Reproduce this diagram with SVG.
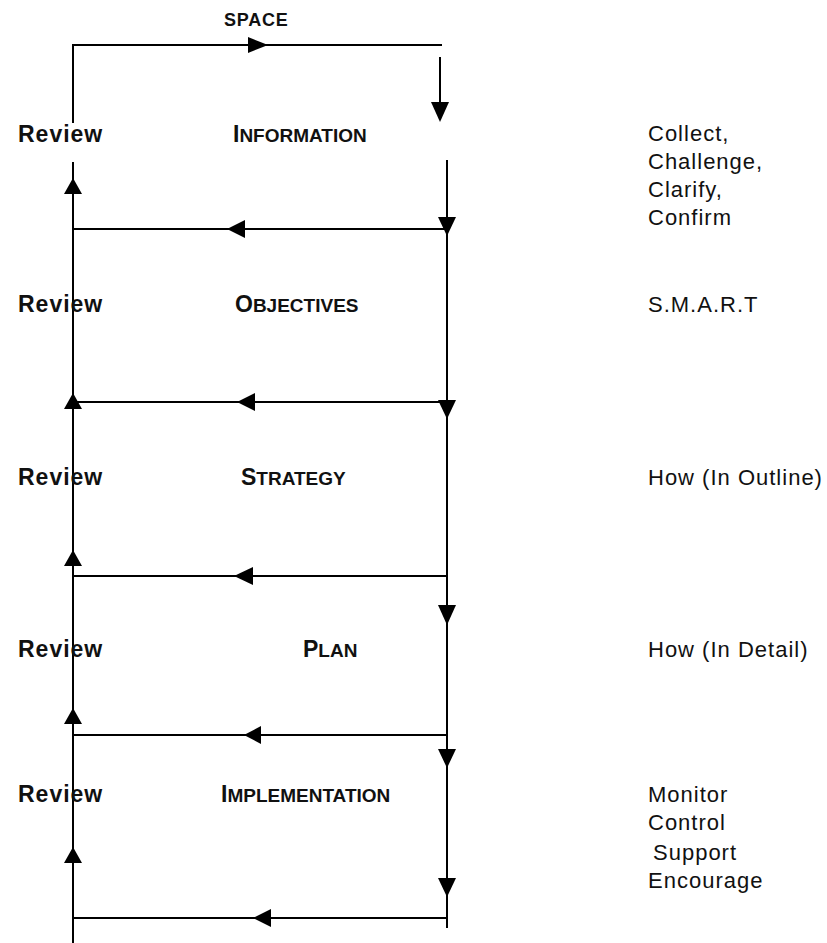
<svg xmlns="http://www.w3.org/2000/svg" width="827" height="943" viewBox="0 0 827 943">
  <style>
    .ln { stroke: #000; stroke-width: 2; fill: none; }
    .ah { fill: #000; stroke: none; }
    .rev { font-family: "Liberation Sans", Arial, sans-serif; font-weight: bold; font-size: 23px; letter-spacing: 1px; fill: #111; }
    .stg { font-family: "Liberation Sans", Arial, sans-serif; font-weight: bold; font-size: 19px; fill: #111; }
    .big { font-size: 23px; }
    .desc { font-family: "Liberation Sans", Arial, sans-serif; font-size: 22px; letter-spacing: 1px; fill: #111; }
    .ttl { font-family: "Liberation Sans", Arial, sans-serif; font-weight: bold; font-size: 18px; letter-spacing: 0.8px; fill: #111; }
  </style>
  <rect width="827" height="943" fill="#fff"/>

  <g id="connectors">
    <path class="ln" d="M73,123 V45 H442"/>
    <path class="ln" d="M440,57 V108"/>
    <path class="ln" d="M73,943 V162"/>
    <path class="ln" d="M447,160 V928"/>
    <path class="ln" d="M73,229 H447"/>
    <path class="ln" d="M73,402 H447"/>
    <path class="ln" d="M73,576 H447"/>
    <path class="ln" d="M73,735 H447"/>
    <path class="ln" d="M73,918 H447"/>
    <polygon class="ah" points="248,37 268,45 248,53"/>
    <polygon class="ah" points="431,102 449,102 440,122"/>
    <polygon class="ah" points="64,194 82,194 73,178"/>
    <polygon class="ah" points="64,409 82,409 73,393"/>
    <polygon class="ah" points="64,566 82,566 73,550"/>
    <polygon class="ah" points="64,724 82,724 73,708"/>
    <polygon class="ah" points="64,863 82,863 73,847"/>
    <polygon class="ah" points="438,217 456,217 447,236"/>
    <polygon class="ah" points="438,400 456,400 447,419"/>
    <polygon class="ah" points="438,605 456,605 447,625"/>
    <polygon class="ah" points="438,749 456,749 447,768"/>
    <polygon class="ah" points="438,878 456,878 447,897"/>
    <polygon class="ah" points="227,229 245,220 245,238"/>
    <polygon class="ah" points="237,402 255,393 255,411"/>
    <polygon class="ah" points="234,576 253,567 253,585"/>
    <polygon class="ah" points="244,735 261,726 261,744"/>
    <polygon class="ah" points="253,918 271,909 271,927"/>
  </g>

  <g id="space">
    <text class="ttl" x="224" y="26">SPACE</text>
  </g>

  <g id="information">
    <text class="rev" x="18" y="142">Review</text>
    <text class="stg" x="233" y="142"><tspan class="big">I</tspan>NFORMATION</text>
    <text class="desc" x="648" y="141">Collect,</text>
    <text class="desc" x="648" y="169">Challenge,</text>
    <text class="desc" x="648" y="197">Clarify,</text>
    <text class="desc" x="648" y="225">Confirm</text>
  </g>

  <g id="objectives">
    <text class="rev" x="18" y="312">Review</text>
    <text class="stg" x="235" y="312"><tspan class="big">O</tspan>BJECTIVES</text>
    <text class="desc" x="648" y="312">S.M.A.R.T</text>
  </g>

  <g id="strategy">
    <text class="rev" x="18" y="485">Review</text>
    <text class="stg" x="241" y="485"><tspan class="big">S</tspan>TRATEGY</text>
    <text class="desc" x="648" y="485">How (In Outline)</text>
  </g>

  <g id="plan">
    <text class="rev" x="18" y="657">Review</text>
    <text class="stg" x="303" y="657"><tspan class="big">P</tspan>LAN</text>
    <text class="desc" x="648" y="657">How (In Detail)</text>
  </g>

  <g id="implementation">
    <text class="rev" x="18" y="802">Review</text>
    <text class="stg" x="221" y="802"><tspan class="big">I</tspan>MPLEMENTATION</text>
    <text class="desc" x="648" y="802">Monitor</text>
    <text class="desc" x="648" y="830">Control</text>
    <text class="desc" x="653" y="860">Support</text>
    <text class="desc" x="648" y="888">Encourage</text>
  </g>
</svg>
